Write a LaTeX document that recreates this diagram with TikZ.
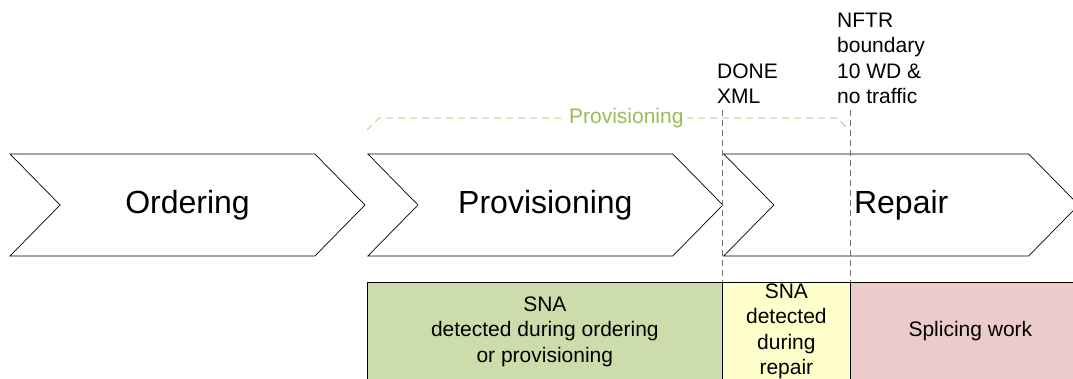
\documentclass[tikz,border=0pt]{standalone}
\usepackage{fontspec}
\setmainfont{Liberation Sans}
\usetikzlibrary{positioning,shapes.symbols}

\definecolor{snagreen}{HTML}{CDDCAB}
\definecolor{snayellow}{HTML}{FFFFCC}
\definecolor{splicepink}{HTML}{ECCBCB}
\definecolor{provgreen}{HTML}{9BBB59}

\begin{document}
\begin{tikzpicture}[x=1pt,y=1pt,
  every node/.style={font=\fontsize{21}{25.5}\selectfont},
  phase/.style={
    signal, signal to=east, signal from=west, signal pointer angle=91,
    draw=black, line width=0.7pt, minimum width=355pt, minimum height=102pt,
    inner sep=0pt, font=\fontsize{32}{36}\selectfont
  },
  snabox/.style={
    rectangle, draw=black, line width=0.7pt, minimum height=98pt,
    inner sep=0pt, align=center, anchor=north west
  },
  marker/.style={draw=black!55, line width=0.6pt, dash pattern=on 6pt off 4pt},
  span/.style={draw=provgreen, line width=0.7pt, dash pattern=on 7pt off 5pt}
]
\useasboundingbox (0,0) rectangle (1073,378);

% phases (west anchor sits in the notch)
\node[phase] (ordering) at (187.5,173) {Ordering};
\node[phase, right=52pt of ordering] (prov) {Provisioning};
\node[phase, right=50pt of prov] (repair) {Repair};

% boxes under the phases
\node[snabox, fill=snagreen, minimum width=355pt] (provbox) at (367,96)
  {SNA\\detected during ordering\\or provisioning};
\node[snabox, fill=snayellow, minimum width=128pt] (repairbox) at (722,96)
  {SNA\\detected\\during\\repair};
\node[snabox, fill=splicepink, minimum width=240pt] (splice) at (850,96)
  {Splicing work};

% milestones
\coordinate (done) at (722,268);
\coordinate (nftr) at (850,268);
\node[anchor=south west, inner sep=0pt, align=left] (donelbl) at (717,274) {DONE\\XML};
\node[anchor=south west, inner sep=0pt, align=left] (nftrlbl) at (837,274)
  {NFTR\\boundary\\10 WD \&\\no traffic};
\draw[marker] (done) -- (repairbox.north west);
\draw[marker] (nftr) -- (splice.north west);

% provisioning span
\coordinate (spanA) at (367,248);
\coordinate (spanB) at (379,260);
\coordinate (spanC) at (837,260);
\coordinate (spanD) at (849,248);
\draw[span] (spanA) -- (spanB) -- node[pos=0.54, fill=white, inner xsep=3pt, text=provgreen] (spanlbl) {Provisioning} (spanC) -- (spanD);
\end{tikzpicture}
\end{document}
